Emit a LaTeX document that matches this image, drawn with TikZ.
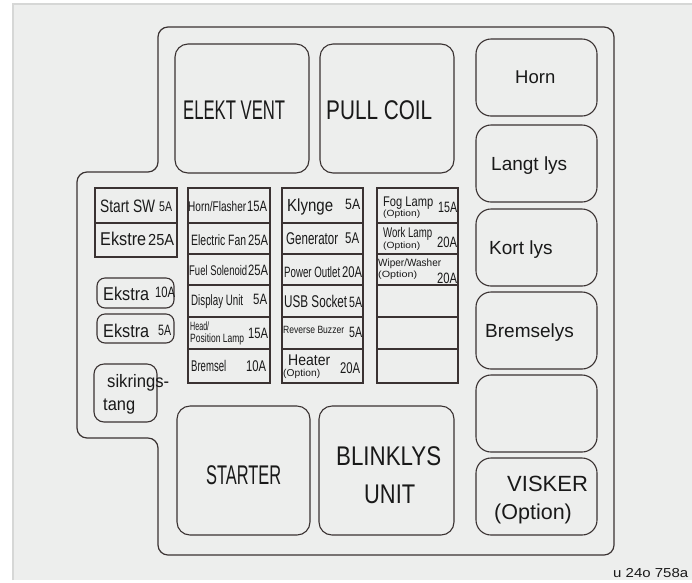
\documentclass[tikz,border=0pt]{standalone}
\usepackage{fontspec}
\setmainfont{Liberation Sans}
\usepackage{graphicx}
\definecolor{bgc}{HTML}{EDEEED}
\definecolor{bordc}{HTML}{D6D7D6}
\definecolor{linec}{HTML}{3A3232}
\newcommand\fw[3]{\resizebox{#1pt}{\height}{\fontsize{#2}{#2}\selectfont #3}}
\newcommand\fs[2]{{\fontsize{#1}{#1}\selectfont #2}}
\tikzset{
  ol/.style={draw=linec, line width=1.2pt, rounded corners=10pt},
  fz/.style={draw=linec, line width=1.2pt},
  rsmall/.style={draw=linec, line width=1.1pt, rounded corners=8pt},
  rbig/.style={draw=linec, line width=1.1pt, rounded corners=13pt},
  rright/.style={draw=linec, line width=1.1pt, rounded corners=15pt},
  T/.style={anchor=base west, inner sep=0pt, text=black!90},
}
\begin{document}
\begin{tikzpicture}[x=1pt,y=-1pt]
\useasboundingbox (0,0) rectangle (692,582);
% background
\fill[bgc] (12,3) rectangle (692,580);
\draw[bordc, line width=1.5pt] (12.75,580) -- (12.75,3.75) -- (692,3.75);
% outline
\draw[ol] (158,27) -- (614,27) -- (614,555) -- (158,555) -- (158,438) -- (77,438) -- (77,172) -- (158,172) -- cycle;
% big boxes
\draw[rbig] (175,44) rectangle (309,173);
\draw[rbig] (320,44) rectangle (454,173);
\draw[rbig] (177,406) rectangle (310,535);
\draw[rbig] (319,406) rectangle (454,535);
% right boxes
\foreach \y in {39,125,209,292,375,458} \draw[rright] (476,\y) rectangle (597,\y+77);
% fuse columns
\draw[fz] (95,188) rectangle (177,257) (95,223) -- (177,223);
\foreach \xa/\xb in {188/270,282/363,377/458}{
  \draw[fz] (\xa,188) rectangle (\xb,383);
  \foreach \y in {223,254,285,317,349} \draw[fz] (\xa,\y) -- (\xb,\y);
}
% small rounded boxes
\draw[rsmall] (97,278) rectangle (174,308);
\draw[rsmall] (97,314) rectangle (174,343);
\draw[rsmall, rounded corners=10pt] (94,364) rectangle (157,422);

% big texts
\node[T] (elekt) at (183,119) {\fw{102}{27}{ELEKT VENT}};
\node[T] (pull) at (326,119) {\fw{106}{27}{PULL COIL}};
\node[T] (starter) at (206,484) {\fw{75}{27}{STARTER}};
\node[T] (blink) at (336,465) {\fw{105}{27}{BLINKLYS}};
\node[T] (unit) at (364,503) {\fw{51}{27}{UNIT}};

% right texts
\node[T] (horn) at (515,83) {\fs{18.5}{Horn}};
\node[T] (langt) at (491,170) {\fs{19}{Langt lys}};
\node[T] (kort) at (489,254) {\fs{19}{Kort lys}};
\node[T] (brems) at (485,337) {\fs{19}{Bremselys}};
\node[T] (visker) at (507,491) {\fs{22}{VISKER}};
\node[T] (viskopt) at (494,519) {\fs{21.5}{(Option)}};

% column A
\node[T] (a1) at (100,212) {\fw{55}{18}{Start SW}};
\node[T] (a1a) at (159,211) {\fw{13}{14}{5A}};
\node[T] (a2) at (100,245) {\fw{46}{18.5}{Ekstre}};
\node[T] (a2a) at (148,245) {\fw{26}{16}{25A}};
\node[T] (e1) at (103,300) {\fw{46}{18.5}{Ekstra}};
\node[T] (e1a) at (155,297) {\fw{20}{15}{10A}};
\node[T] (e2) at (103,337) {\fw{46}{18.5}{Ekstra}};
\node[T] (e2a) at (158,335) {\fw{13}{15}{5A}};
\node[T] (sik1) at (107,387) {\fw{62}{18}{sikrings-}};
\node[T] (sik2) at (103,410) {\fw{32}{18}{tang}};

% column B
\node[T] (b1) at (188,211) {\fw{58}{14}{Horn/Flasher}};
\node[T] (b1a) at (247,211) {\fw{20}{15}{15A}};
\node[T] (b2) at (191,245) {\fw{55}{15}{Electric Fan}};
\node[T] (b2a) at (248,245) {\fw{20}{15}{25A}};
\node[T] (b3) at (189,275) {\fw{58}{14}{Fuel Solenoid}};
\node[T] (b3a) at (248,275) {\fw{20}{15}{25A}};
\node[T] (b4) at (191,305) {\fw{52}{15}{Display Unit}};
\node[T] (b4a) at (253,304) {\fw{14}{15}{5A}};
\node[T] (b5) at (190,330.5) {\fw{19}{12}{Head/}};
\node[T] (b5b) at (190,342) {\fw{54}{12}{Position Lamp}};
\node[T] (b5a) at (248,338) {\fw{20}{15}{15A}};
\node[T] (b6) at (191,371) {\fw{35}{15.5}{Bremsel}};
\node[T] (b6a) at (246,371) {\fw{20}{15.5}{10A}};

% column C
\node[T] (c1) at (287,211) {\fw{46}{17.5}{Klynge}};
\node[T] (c1a) at (345,209) {\fw{15}{15}{5A}};
\node[T] (c2) at (286,244) {\fw{52}{17}{Generator}};
\node[T] (c2a) at (345,243) {\fw{14}{15.5}{5A}};
\node[T] (c3) at (284,277) {\fw{56}{15}{Power Outlet}};
\node[T] (c3a) at (342,277) {\fw{20}{15.5}{20A}};
\node[T] (c4) at (284,307) {\fw{63}{17}{USB Socket}};
\node[T] (c4a) at (349,307) {\fw{13}{15}{5A}};
\node[T] (c5) at (283,333) {\fw{61}{10.5}{Reverse Buzzer}};
\node[T] (c5a) at (349,337) {\fw{13}{15}{5A}};
\node[T] (c6) at (288,365) {\fw{42}{15.5}{Heater}};
\node[T] (c6o) at (283,376) {\fw{37}{10}{(Option)}};
\node[T] (c6a) at (340,373) {\fw{20}{15.5}{20A}};

% column D
\node[T] (d1) at (383,206) {\fw{50}{14}{Fog Lamp}};
\node[T] (d1o) at (383,216.5) {\fw{37}{9}{(Option)}};
\node[T] (d1a) at (438,212) {\fw{19}{15}{15A}};
\node[T] (d2) at (383,237) {\fw{49}{14}{Work Lamp}};
\node[T] (d2o) at (383,248) {\fw{37}{9}{(Option)}};
\node[T] (d2a) at (437,247) {\fw{20}{15}{20A}};
\node[T] (d3) at (378,266) {\fw{63}{10.5}{Wiper/Washer}};
\node[T] (d3o) at (378,277) {\fw{39}{9}{(Option)}};
\node[T] (d3a) at (437,283) {\fw{20}{15}{20A}};

% label
\node[T] (code) at (613,577) {\fw{75}{13}{u 24o 758a}};
\end{tikzpicture}
\end{document}
